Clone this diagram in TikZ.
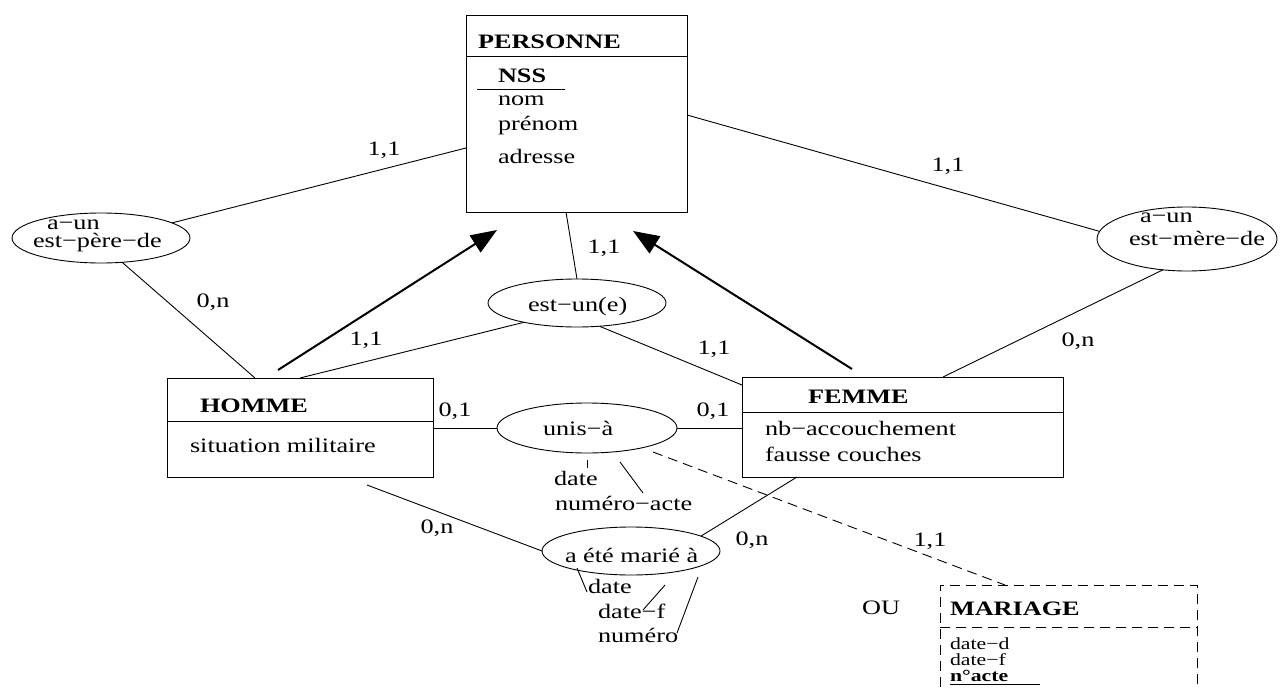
\documentclass[tikz,border=0pt]{standalone}
\usepackage{fontspec}
\setmainfont{Liberation Serif}[FakeStretch=1.28]
\usetikzlibrary{arrows.meta,shapes.geometric}

\tikzset{
  entity/.style={draw, rectangle, anchor=north west, inner sep=0pt, outer sep=0pt, line width=0.9pt},
  relation/.style={draw, ellipse, inner sep=0pt, outer sep=0pt, line width=0.9pt},
  txt/.style={anchor=base west, inner sep=0pt, outer sep=0pt},
  tight/.style={txt, font=\fontsize{17}{18}\selectfont},
  card/.style={anchor=center, inner sep=0pt, outer sep=0pt},
  link/.style={line width=0.9pt},
  isa/.style={line width=2pt, -{Triangle[length=26pt,width=20pt]}},
  opt/.style={line width=0.9pt, dash pattern=on 10pt off 6pt},
}

\begin{document}
\begin{tikzpicture}[x=1pt, y=-1pt, font=\fontsize{20.5}{23}\selectfont]
\useasboundingbox (0,0) rectangle (1287,688);

% ---- entities ----
\node[entity, minimum width=221pt, minimum height=197pt] (personne) at (466,15) {};
\draw[link] ([yshift=-41pt]personne.north west) -- ([yshift=-41pt]personne.north east);
\node[txt] (tpers) at (478,48) {\textbf{PERSONNE}};
\node[txt] (tnss) at (498,82) {\textbf{NSS}};
\draw[link] (477,89) -- (565,89);
\node[txt] (tnom) at (498,105) {nom};
\node[txt] (tprenom) at (498,130) {prénom};
\node[txt] (tadr) at (498,163) {adresse};

\node[entity, minimum width=266pt, minimum height=99pt] (homme) at (167,378) {};
\draw[link] ([yshift=-43pt]homme.north west) -- ([yshift=-43pt]homme.north east);
\node[txt] (thomme) at (200,412) {\textbf{HOMME}};
\node[txt] (tsit) at (190,452) {situation militaire};

\node[entity, minimum width=321pt, minimum height=100pt] (femme) at (742,377) {};
\draw[link] ([yshift=-35pt]femme.north west) -- ([yshift=-35pt]femme.north east);
\node[txt] (tfemme) at (808,403) {\textbf{FEMME}};
\node[txt] (tnb) at (765,435) {nb−accouchement};
\node[txt] (tfc) at (765,461) {fausse couches};

% MARIAGE, dashed, running past the lower edge
\node[entity, opt, minimum width=257pt, minimum height=130pt] (mariage) at (940,585) {};
\draw[opt] ([yshift=-42pt]mariage.north west) -- ([yshift=-42pt]mariage.north east);
\node[txt] (tmar) at (950,615) {\textbf{MARIAGE}};
\node[tight] (tdd) at (950,649) {date−d};
\node[tight] (tdf) at (950,665) {date−f};
\node[tight] (tacte) at (950,681) {\textbf{n°acte}};
\draw[link] (950,684) -- (1040,684);
\node[card] (ou) at (881,608) {OU};

% ---- relationships ----
\node[relation, minimum width=178pt, minimum height=50pt] (pere) at (101,238) {};
\node[txt] (tpere1) at (47,229) {a−un};
\node[txt] (tpere2) at (33,247) {est−père−de};

\node[relation, minimum width=180pt, minimum height=64pt] (mere) at (1187,239) {};
\node[txt] (tmere1) at (1140,222) {a−un};
\node[txt] (tmere2) at (1129,245) {est−mère−de};

\node[relation, minimum width=178pt, minimum height=48pt] (est) at (577,303) {};
\node[txt] (test) at (528,311) {est−un(e)};

\node[relation, minimum width=180pt, minimum height=50pt] (unis) at (587,428) {};
\node[txt] (tunis) at (543,435) {unis−à};
\node[txt] (tudate) at (554,485) {date};
\node[txt] (tunum) at (555,510) {numéro−acte};
\draw[link] (587,460) -- (587,468);
\draw[link] (620,462) -- (643,493);

\node[relation, minimum width=178pt, minimum height=48pt] (marie) at (631,551) {};
\node[txt] (tmarie) at (565,562) {a été marié à};
\node[txt] (tmdate) at (588,593) {date};
\node[txt] (tmdf) at (598,618) {date−f};
\node[txt] (tmnum) at (598,642) {numéro};
\draw[link] (577,568) -- (587,592);
\draw[link] (665,585) -- (643,610);
\draw[link] (698,577) -- (677,633);

% ---- connectors ----
\draw[link] ([yshift=-133pt]personne.north west) -- (pere.12);
\draw[link] (pere.-49) -- ([xshift=88pt]homme.north west);
\draw[link] ([yshift=-100pt]personne.north east) -- (mere.175);
\draw[link] (mere.-128) -- ([xshift=201pt]femme.north west);
\draw[link] ([xshift=100pt]personne.south west) -- (est.north);
\draw[link] ([xshift=133pt]homme.north west) -- (est.200);
\draw[link] (est.-46) -- ([yshift=-8pt]femme.north west);
\draw[isa] ([xshift=111pt,yshift=8pt]homme.north west) -- ([xshift=31pt,yshift=-18pt]personne.south west);
\draw[isa] ([xshift=110pt,yshift=8pt]femme.north west) -- ([xshift=-54pt,yshift=-19pt]personne.south east);
\draw[link] ([yshift=-50pt]homme.north east) -- (unis.west);
\draw[link] (unis.east) -- ([yshift=-51pt]femme.north west);
\draw[link] ([xshift=200pt,yshift=-8pt]homme.south west) -- (marie.west);
\draw[link] ([xshift=55pt]femme.south west) -- (marie.12);
\draw[opt] ([xshift=66pt,yshift=-24pt]unis.center) -- ([xshift=65pt]mariage.north west);

% ---- cardinalities ----
\node[card] (c1) at (384,150) {1,1};
\node[card] (c2) at (213,302) {0,n};
\node[card] (c3) at (366,340) {1,1};
\node[card] (c4) at (604,248) {1,1};
\node[card] (c5) at (714,349) {1,1};
\node[card] (c6) at (948,166) {1,1};
\node[card] (c7) at (1078,341) {0,n};
\node[card] (c8) at (455,411) {0,1};
\node[card] (c9) at (713,411) {0,1};
\node[card] (c10) at (437,528) {0,n};
\node[card] (c11) at (752,540) {0,n};
\node[card] (c12) at (930,541) {1,1};
\end{tikzpicture}
\end{document}
